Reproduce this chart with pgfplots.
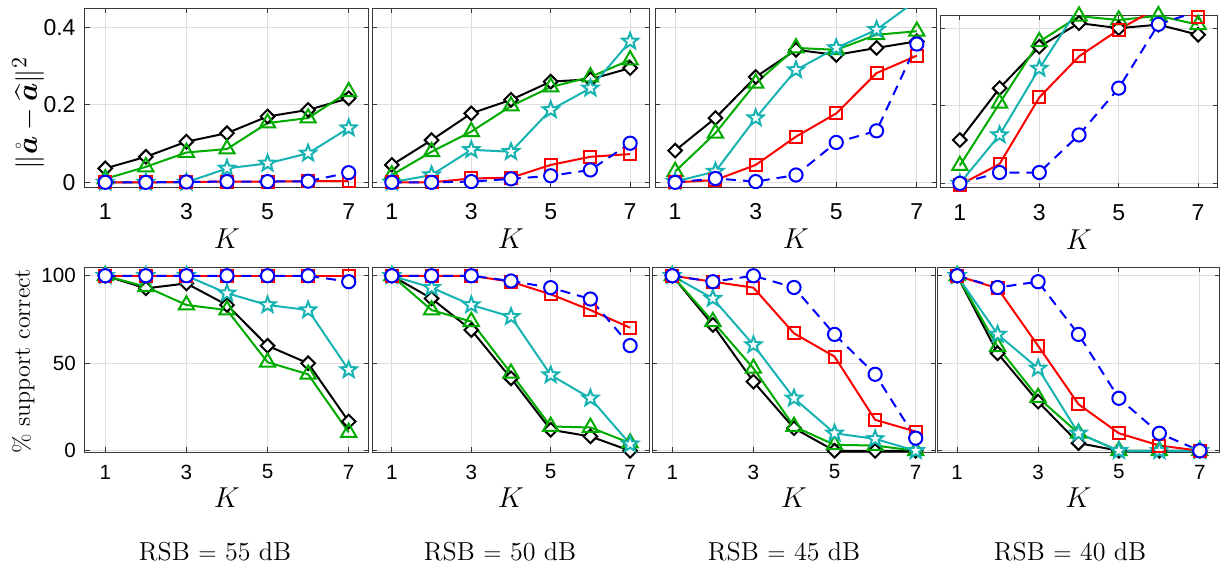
\documentclass[border=0pt]{standalone}
\usepackage{fontspec}
\usepackage{amsmath}
\usepackage{bm}
\usepackage{pgfplots}
\usepackage{pgfplotstable}
\pgfplotsset{compat=1.18}
\newfontfamily\ticksf{Liberation Sans}
\definecolor{mgreen}{rgb}{0,0.67,0}
\definecolor{mteal}{rgb}{0.09,0.7,0.7}

\pgfdeclareplotmark{mdiamond}{%
 \pgfpathmoveto{\pgfqpoint{0pt}{\pgfplotmarksize}}%
 \pgfpathlineto{\pgfqpoint{\pgfplotmarksize}{0pt}}%
 \pgfpathlineto{\pgfqpoint{0pt}{-\pgfplotmarksize}}%
 \pgfpathlineto{\pgfqpoint{-\pgfplotmarksize}{0pt}}%
 \pgfpathclose\pgfusepathqfillstroke}
\pgfdeclareplotmark{pent}{%
 \pgfpathmoveto{\pgfpointpolar{90}{\pgfplotmarksize}}%
 \pgfpathlineto{\pgfpointpolar{126}{0.42\pgfplotmarksize}}%
 \pgfpathlineto{\pgfpointpolar{162}{\pgfplotmarksize}}%
 \pgfpathlineto{\pgfpointpolar{198}{0.42\pgfplotmarksize}}%
 \pgfpathlineto{\pgfpointpolar{234}{\pgfplotmarksize}}%
 \pgfpathlineto{\pgfpointpolar{270}{0.42\pgfplotmarksize}}%
 \pgfpathlineto{\pgfpointpolar{306}{\pgfplotmarksize}}%
 \pgfpathlineto{\pgfpointpolar{342}{0.42\pgfplotmarksize}}%
 \pgfpathlineto{\pgfpointpolar{18}{\pgfplotmarksize}}%
 \pgfpathlineto{\pgfpointpolar{54}{0.42\pgfplotmarksize}}%
 \pgfpathclose\pgfusepathqfillstroke}

% columns: K, black(diamond), green(triangle), teal(star), red(square), blue(circle)
\pgfplotstableread{
K  b     g     t     r      o
1  0.036 0.009 0.000 0.000  0.000
2  0.066 0.040 0.000 0.000  0.000
3  0.105 0.077 0.000 0.001  0.001
4  0.127 0.086 0.036 0.002  0.002
5  0.170 0.153 0.049 0.002  0.002
6  0.187 0.166 0.075 0.003  0.003
7  0.217 0.234 0.140 0.003  0.025
}\tA
\pgfplotstableread{
K  b     g     t     r      o
1  0.045 0.019 0.000 0.000  0.000
2  0.109 0.079 0.019 0.000  0.000
3  0.178 0.131 0.084 0.010  0.002
4  0.213 0.197 0.079 0.012  0.009
5  0.260 0.246 0.187 0.045  0.017
6  0.266 0.272 0.243 0.066  0.032
7  0.295 0.316 0.364 0.073  0.101
}\tB
\pgfplotstableread{
K  b     g     t     r      o
1  0.082 0.028 0.002 0.000  0.000
2  0.166 0.127 0.028 0.006  0.010
3  0.272 0.256 0.166 0.045  0.002
4  0.342 0.347 0.290 0.118  0.019
5  0.329 0.342 0.347 0.178  0.103
6  0.347 0.381 0.394 0.282  0.133
7  0.364 0.390 0.470 0.327  0.357
}\tC
\pgfplotstableread{
K  b     g     t     r      o
1  0.112 0.046 0.000 -0.004 0.000
2  0.246 0.207 0.125 0.050  0.028
3  0.353 0.366 0.297 0.222  0.028
4  0.414 0.432 0.455 0.328  0.125
5  0.401 0.422 0.470 0.397  0.246
6  0.410 0.433 0.480 0.455  0.411
7  0.384 0.410 0.490 0.431  0.445
}\tD
\pgfplotstableread{
K  b     g     t     r     o
1  100   100   100   100   100
2  92.8  93.7  100   100   100
3  95.6  83.3  100   100   100
4  83.3  80.4  90    100   100
5  60    50.6  83.3  100   100
6  50    43.7  80.4  100   100
7  16.7  10.5  46.2  100   96.6
}\bA
\pgfplotstableread{
K  b     g     t     r     o
1  100   100   100   100   100
2  87    80.4  93.2  100   100
3  69    73.8  83.3  100   100
4  41.4  44.3  76.6  96.6  97
5  12    13.9  43.3  89.4  93.2
6  8.2   13.3  30    80.4  86.7
7  0     4.4   3.8   70.3  60.1
}\bB
\pgfplotstableread{
K  b     g     t     r     o
1  100   100   100   100   100
2  71.9  73.8  87    96.6  96.6
3  39.5  47.1  60.5  93.2  100
4  12.9  13.9  30    67.1  93.3
5  0     3.4   10    53.8  66.5
6  0     3     6.8   17.7  43.7
7  0     0     0     11    7.2
}\bC
\pgfplotstableread{
K  b     g     t     r     o
1  100   100   100   100   100
2  55.7  59.5  66.5  92.8  93.3
3  28.1  30.4  47.1  60    96.6
4  4.4   10    10    26.6  66.5
5  0     0     0     10    30
6  0     0     0     3     10
7  0     0     0     0     0
}\bD

\pgfplotsset{
 sB/.style={black, line width=1pt, mark=mdiamond, mark size=3.4pt, mark options={solid, fill=white}},
 sG/.style={mgreen, line width=1pt, mark=triangle, mark size=4.4pt, mark options={solid, fill=white}},
 sT/.style={mteal, line width=1pt, mark=pent, mark size=4.2pt, mark options={solid, fill=white}},
 sR/.style={red, line width=1pt, mark=square, mark size=3pt, mark options={solid, fill=white}},
 sO/.style={blue, line width=1pt, dash pattern=on 5pt off 3.5pt, mark=*, mark size=3.3pt, mark options={solid, fill=white}},
 base/.style={scale only axis, xmin=0.5, xmax=7.5, xtick={1,3,5,7},
   grid=major, major grid style={black!13, line width=0.5pt},
   tick align=inside, major tick length=2.5pt,
   axis line style={black!78, line width=0.5pt}, tick style={black!78, line width=0.5pt},
   /pgf/number format/assume math mode=true,
   xlabel={$K$}, xlabel style={font=\fontsize{13.5}{15}\selectfont, at={(axis description cs:0.5,0)}, anchor=center},
   anchor=north west},
 toprow/.style={base, height=89.5pt, ymin=-0.012, ymax=0.45, ytick={0,0.2,0.4}, yticklabels={},
   tick label style={font=\fontsize{11.5}{13}\selectfont\ticksf},
   xticklabel style={anchor=center, yshift=-12.5pt},
   xlabel style={yshift=-26pt}},
 botrow/.style={base, height=92.5pt, ymin=-0.7, ymax=105, ytick={0,50,100}, yticklabels={},
   tick label style={font=\fontsize{10.3}{12}\selectfont\ticksf},
   xticklabel style={anchor=center, yshift=-10pt},
   xlabel style={yshift=-23pt}},
}

\newcommand{\series}[1]{%
 \addplot[sB] table[x=K,y=b]{#1};
 \addplot[sG] table[x=K,y=g]{#1};
 \addplot[sT] table[x=K,y=t]{#1};
 \addplot[sR] table[x=K,y=r]{#1};
 \addplot[sO] table[x=K,y=o]{#1};
}

\begin{document}
\begin{tikzpicture}
\useasboundingbox (0,0) rectangle (611.5pt,285pt);

% top row
\begin{axis}[toprow, at={(42.5pt,281pt)}, width=142pt,
  yticklabels={0,0.2,0.4}, yticklabel style={anchor=east, xshift=-1.2pt},
  ylabel={$\|\mathring{\bm a}-\widehat{\bm a}\|^2$},
  ylabel style={font=\fontsize{15}{17}\selectfont, at={(axis description cs:-0.2,0.413)}, anchor=center}]
\series{\tA}
\end{axis}
\begin{axis}[toprow, at={(186pt,281pt)}, width=139pt]
\series{\tB}
\end{axis}
\begin{axis}[toprow, at={(327.5pt,281pt)}, width=141pt]
\series{\tC}
\end{axis}
\begin{axis}[toprow, at={(470pt,277.5pt)}, width=139pt, height=86.3pt, ymin=-0.011, ymax=0.435]
\series{\tD}
\end{axis}

% bottom row
\begin{axis}[botrow, at={(42.5pt,151.5pt)}, width=142pt,
  yticklabels={0,50,100}, yticklabel style={anchor=east, xshift=-1.1pt},
  ylabel={\% support correct},
  ylabel style={font=\fontsize{12}{14}\selectfont, at={(axis description cs:-0.218,0.49)}, anchor=center}]
\series{\bA}
\end{axis}
\begin{axis}[botrow, at={(186pt,151.5pt)}, width=139pt]
\series{\bB}
\end{axis}
\begin{axis}[botrow, at={(326pt,151.5pt)}, width=142pt]
\series{\bC}
\end{axis}
\begin{axis}[botrow, at={(468.5pt,151.5pt)}, width=141.5pt]
\series{\bD}
\end{axis}

\node[anchor=base, font=\fontsize{13}{15}\selectfont] at (107.5pt,5pt) {RSB $=$ 55 dB};
\node[anchor=base, font=\fontsize{13}{15}\selectfont] at (250pt,5pt) {RSB $=$ 50 dB};
\node[anchor=base, font=\fontsize{13}{15}\selectfont] at (392pt,5pt) {RSB $=$ 45 dB};
\node[anchor=base, font=\fontsize{13}{15}\selectfont] at (535pt,5pt) {RSB $=$ 40 dB};
\end{tikzpicture}
\end{document}
